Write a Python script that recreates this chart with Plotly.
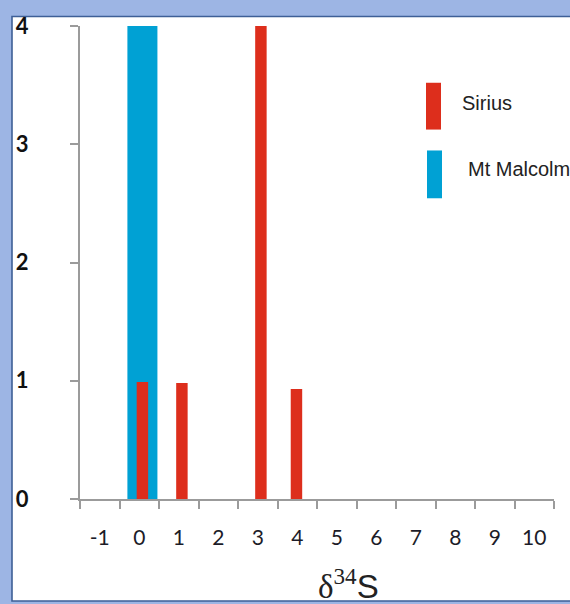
import plotly.graph_objects as go

# δ34S histogram: counts of samples per value, two localities
sirius_d34s = [0.08, 1.08, 3.08, 3.98]
sirius_counts = [0.99, 0.98, 4.0, 0.93]
malcolm_d34s = [0.08]
malcolm_counts = [4.0]

x_tick_values = list(range(-1, 11))
x_tick_labels = [str(v) for v in x_tick_values]
y_tick_values = [0, 1, 2, 3, 4]
y_tick_labels = [str(v) for v in y_tick_values]

series_names = ["Sirius", "Mt Malcolm"]
RED = "#dd2e1c"
BLUE = "#00a1d4"
AXIS_GREY = "#9b9b9b"

W, H = 570, 604
# plot area in pixels
PL, PR, PT, PB = 80, 554, 24, 499


def px(x):
    return (x - PL) / (PR - PL)


def py(y):
    return (PB - y) / (PB - PT)


fig = go.Figure()
fig.add_trace(go.Bar(
    x=malcolm_d34s, y=malcolm_counts, name=series_names[1],
    marker=dict(color=BLUE, line=dict(width=0)), width=0.76,
))
fig.add_trace(go.Bar(
    x=sirius_d34s, y=sirius_counts, name=series_names[0],
    marker=dict(color=RED, line=dict(width=0)), width=0.29,
))

shapes = [
    # white panel with dark blue frame
    dict(type="rect", xref="paper", yref="paper", layer="below",
         x0=px(12), x1=px(590), y0=py(601.5), y1=py(14.5),
         fillcolor="white", line=dict(color="#3e5f96", width=1.6)),
    # legend swatches
    dict(type="rect", xref="paper", yref="paper",
         x0=px(426), x1=px(441), y0=py(128), y1=py(81),
         fillcolor=RED, line=dict(width=0)),
    dict(type="rect", xref="paper", yref="paper",
         x0=px(427), x1=px(442), y0=py(197), y1=py(149),
         fillcolor=BLUE, line=dict(width=0)),
]

annotations = [
    dict(text=series_names[0], xref="paper", yref="paper", x=px(460), y=py(101),
         xanchor="left", yanchor="middle", showarrow=False,
         font=dict(family="Liberation Sans, Arial", size=20, color="#222222")),
    dict(text=series_names[1], xref="paper", yref="paper", x=px(466), y=py(168),
         xanchor="left", yanchor="middle", showarrow=False,
         font=dict(family="Liberation Sans, Arial", size=20, color="#222222")),
    dict(text="<span style='font-family:Liberation Serif'>δ<sup>34</sup></span>S",
         xref="paper", yref="paper", x=px(348), y=py(584),
         xanchor="center", yanchor="middle", showarrow=False,
         font=dict(family="Liberation Sans, Arial", size=33, color="#222222")),
]

fig.update_layout(
    width=W, height=H,
    margin=dict(l=PL, r=W - PR, t=PT, b=H - PB, pad=0),
    paper_bgcolor="#9db5e4",
    plot_bgcolor="rgba(0,0,0,0)",
    barmode="overlay",
    showlegend=False,
    shapes=shapes,
    annotations=annotations,
    xaxis=dict(
        range=[-1.5, 10.5], showgrid=False, zeroline=False,
        showline=True, linecolor=AXIS_GREY, linewidth=2,
        tickmode="array", tickvals=x_tick_values, ticktext=x_tick_labels,
        ticks="", ticklabelstandoff=19,
        tickfont=dict(family="Lato", size=21, color="#1c1c28"),
        minor=dict(tickmode="array",
                   tickvals=[v - 0.5 for v in x_tick_values] + [x_tick_values[-1] + 0.5],
                   ticks="outside", ticklen=8, tickwidth=2, tickcolor=AXIS_GREY),
    ),
    yaxis=dict(
        range=[0, 4], showgrid=False, zeroline=False,
        showline=True, linecolor=AXIS_GREY, linewidth=2,
        tickmode="array", tickvals=y_tick_values, ticktext=y_tick_labels,
        ticks="outside", ticklen=8, tickwidth=2, tickcolor=AXIS_GREY,
        ticklabelstandoff=37,
        tickfont=dict(family="Lato", size=22, color="#111111", weight="bold"),
    ),
)

fig.write_html("out.html")
